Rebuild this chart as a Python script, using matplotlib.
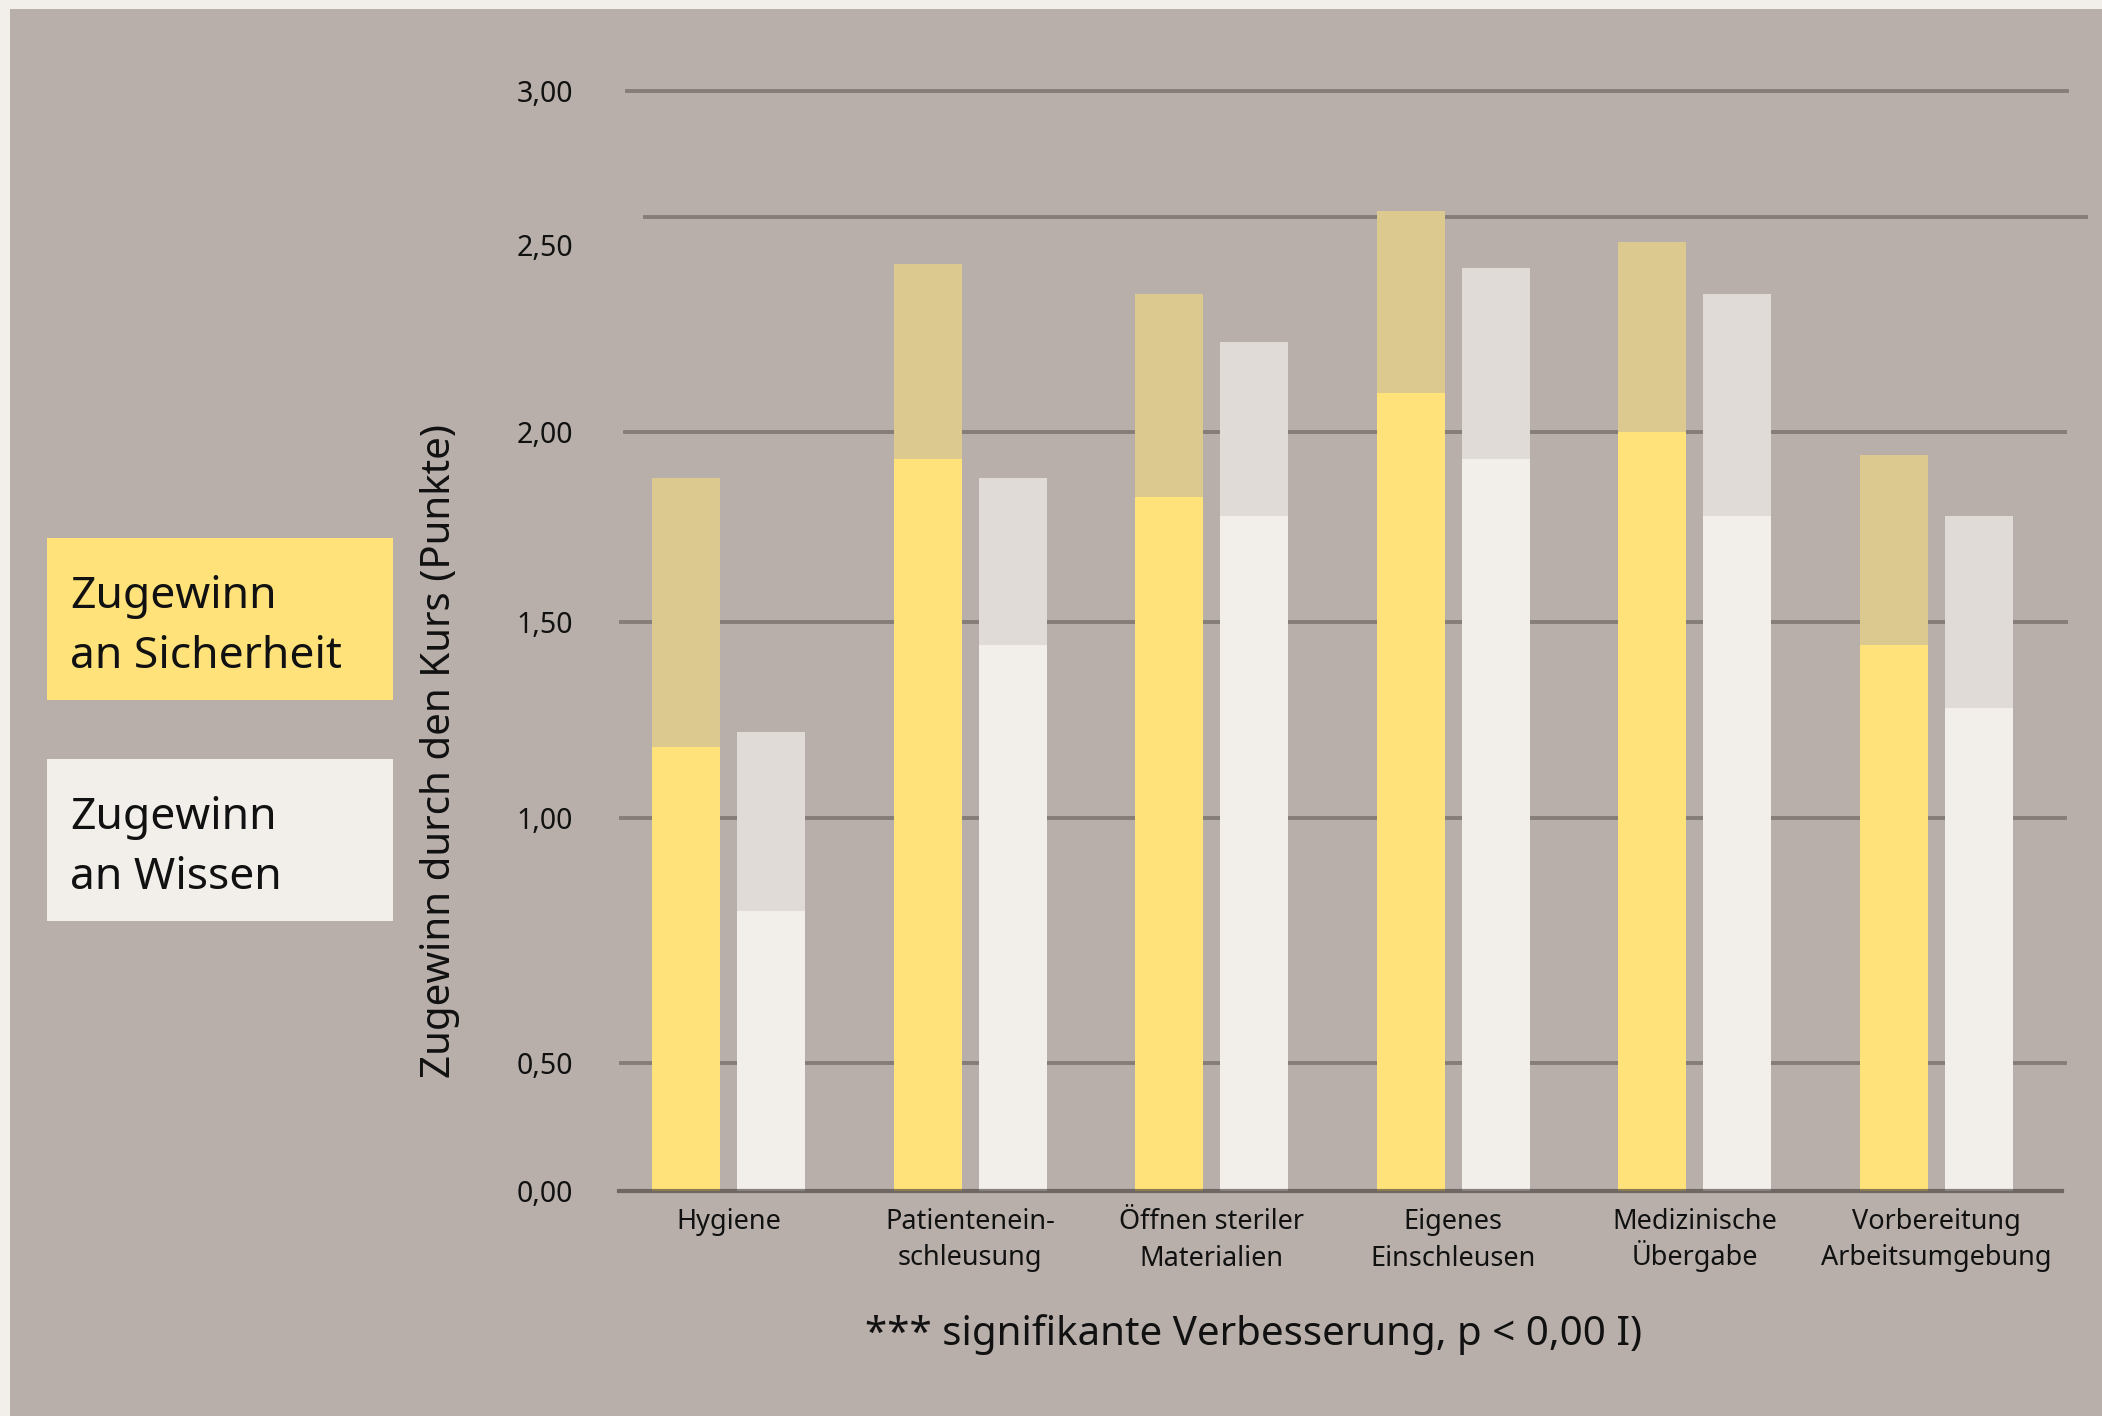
import numpy as np
import matplotlib.pyplot as plt
from matplotlib.patches import Rectangle
from matplotlib.transforms import ScaledTranslation

# =============================================================================
# Daten
# =============================================================================
kat_zeile1 = ["Hygiene", "Patientenein-", "Öffnen steriler", "Eigenes",
              "Medizinische", "Vorbereitung"]
kat_zeile2 = ["", "schleusung", "Materialien", "Einschleusen", "Übergabe",
              "Arbeitsumgebung"]
sicherheit = [1.18, 1.93, 1.83, 2.09, 2.00, 1.44]
sicherheit_oben = [1.88, 2.39, 2.32, 2.52, 2.44, 1.94]
wissen = [0.81, 1.44, 1.78, 1.93, 1.78, 1.28]
wissen_oben = [1.22, 1.88, 2.21, 2.38, 2.32, 1.78]

y_ticks = [0, 0.5, 1.0, 1.5, 2.0, 2.5, 3.0]
y_ticklabels = ["0,00", "0,50", "1,00", "1,50", "2,00", "2,50", "3,00"]

# ungleichmaessige Achse wie im Original (Hoehe in Pixel ueber der Nulllinie)
y_hoehe = [0, 127.5, 372.7, 568.5, 758.2, 974, 1100]

# =============================================================================
# Farben / Layout
# =============================================================================
bg = "#B8AFAA"
rand = "#F2EFEA"
gelb = "#FFE37A"
gelb_hell = "#DBC98F"
weiss = "#F2EFEB"
weiss_hell = "#E0DBD6"
linie = "#857D78"

W, H = 2102, 1416
ax_l, ax_b, ax_w, ax_h = 619, 1190.5, 1448, 1100

fig = plt.figure(figsize=(W / 100, H / 100), dpi=100)
fig.patch.set_facecolor(rand)
fig.patches.append(Rectangle((10 / W, 0), 1, 1 - 9 / H, transform=fig.transFigure,
                             facecolor=bg, edgecolor="none", zorder=-10))

ax = fig.add_axes([ax_l / W, 1 - ax_b / H, ax_w / W, ax_h / H])
ax.set_facecolor("none")

fwd = lambda v: np.interp(v, y_ticks, y_hoehe)
inv = lambda h: np.interp(h, y_hoehe, y_ticks)
ax.set_yscale("function", functions=(fwd, inv))
ax.set_ylim(0, 3)

x = np.arange(len(kat_zeile1))
ax.set_xlim(-0.453, 5.54)
bw = 0.2815
off = 0.176

s = np.array(sicherheit)
so = np.array(sicherheit_oben)
w = np.array(wissen)
wo = np.array(wissen_oben)

ax.bar(x - off, s, bw, color=gelb, zorder=2)
ax.bar(x - off, so - s, bw, bottom=s, color=gelb_hell, zorder=2)
ax.bar(x + off, w, bw, color=weiss, zorder=2)
ax.bar(x + off, wo - w, bw, bottom=w, color=weiss_hell, zorder=2)

# Gitterlinien (Pixelbereich links/rechts)
grid_x0 = [619, 621, 621, 621, 625, 645, 627]
grid_x1 = [2062, 2065, 2065, 2066, 2065, 2086, 2067]
for v, a, b in zip(y_ticks, grid_x0, grid_x1):
    if v == 0:
        ax.axhline(v, (a - ax_l) / ax_w, (b - ax_l) / ax_w, color="#3f3834",
                   alpha=0.6, lw=3, zorder=3, clip_on=False)
    else:
        ax.axhline(v, (a - ax_l) / ax_w, (b - ax_l) / ax_w, color=linie,
                   lw=2.8, zorder=0, clip_on=False)

for sp in ax.spines.values():
    sp.set_visible(False)

ax.set_yticks(y_ticks)
ax.set_yticklabels(y_ticklabels, family="Noto Sans", fontsize=20.5, color="#111111")
ax.tick_params(axis="y", length=0, pad=33)

# zweizeilige Kategorien: Zeile 1 als Haupt-, Zeile 2 als Nebenbeschriftung
ax.xaxis.remove_overlapping_locs = False
ax.set_xticks(x)
ax.set_xticklabels(kat_zeile1, family="Noto Sans", fontsize=19.5, color="#111111",
                   va="baseline")
ax.set_xticks(x, minor=True)
ax.set_xticklabels(kat_zeile2, minor=True, family="Noto Sans", fontsize=19.5,
                   color="#111111", va="baseline")
ax.tick_params(axis="x", which="major", length=0, pad=28)
ax.tick_params(axis="x", which="minor", length=0, pad=54)

# Beschriftung 2,50 sitzt im Original etwas tiefer
for t in ax.get_yticklabels():
    if t.get_text() == "2,50":
        t.set_transform(t.get_transform() + ScaledTranslation(0, -0.29, fig.dpi_scale_trans))

fig.text(440 / W, 1 - 751 / H, "Zugewinn durch den Kurs (Punkte)", rotation=90,
         ha="center", va="center", family="Noto Sans", fontsize=29, color="#111111")

# Legende als Kaesten
for y0, farbe, txt in [(538, gelb, "Zugewinn\nan Sicherheit"), (759, weiss, "Zugewinn\nan Wissen")]:
    fig.patches.append(Rectangle((47 / W, 1 - (y0 + 162) / H), 346 / W, 162 / H,
                                 transform=fig.transFigure, facecolor=farbe,
                                 edgecolor="none", zorder=1))
    fig.text(70 / W, 1 - (y0 + 89) / H, txt, ha="left", va="center", family="Noto Sans",
             fontsize=32, color="#111111", linespacing=1.5)

fig.text(1254 / W, 1 - 1335 / H, "*** signifikante Verbesserung, p < 0,00 I)",
         ha="center", va="center", family="Noto Sans", fontsize=29, color="#111111")

fig.savefig("out.png", dpi=100, facecolor=fig.get_facecolor())
